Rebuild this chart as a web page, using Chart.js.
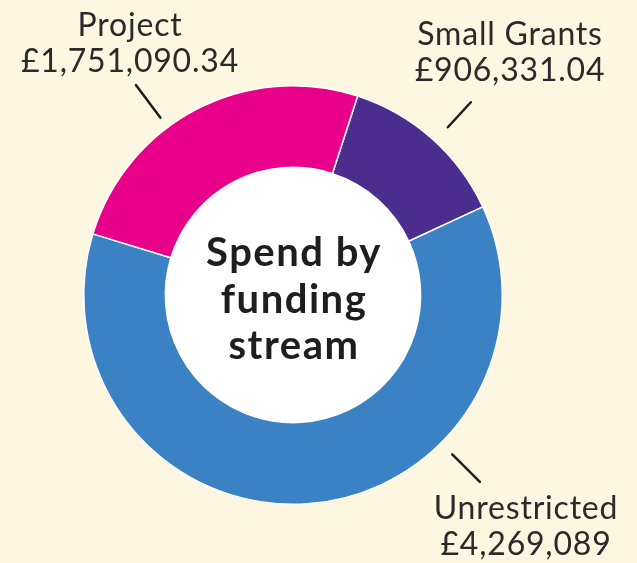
<!DOCTYPE html>
<html><head><meta charset="utf-8">
<script src="https://cdn.jsdelivr.net/npm/chart.js@4"></script>
<style>html,body{margin:0;padding:0;background:#fdf6e1;}#wrap{width:637px;height:563px;}</style>
</head><body><div id="wrap"><canvas id="c" width="637" height="563"></canvas></div>
<script>
const categories = ["Small Grants", "Unrestricted", "Project"];
const values = [906331.04, 4269089, 1751090.34];
const valueLabels = ["£906,331.04", "£4,269,089", "£1,751,090.34"];
const colors = ["#4a2d8c", "#3a82c4", "#e9008a"];
const centerTitle = ["Spend by", "funding", "stream"];

const labelPlugin = {
  id: 'labels',
  beforeDatasetsDraw(chart) {
    const arc = chart.getDatasetMeta(0).data[0];
    const ctx = chart.ctx;
    ctx.save();
    ctx.fillStyle = '#ffffff';
    ctx.beginPath();
    ctx.arc(arc.x, arc.y, arc.innerRadius + 1, 0, Math.PI * 2);
    ctx.fill();
    ctx.restore();
  },
  afterDraw(chart) {
    const ctx = chart.ctx;
    const arcs = chart.getDatasetMeta(0).data;
    const cx = arcs[0].x, cy = arcs[0].y, R = arcs[0].outerRadius;
    ctx.save();
    ctx.fillStyle = '#1e1e1e';
    ctx.font = 'bold 40px Lato';
    ctx.letterSpacing = '1.5px';
    ctx.textAlign = 'center';
    ctx.textBaseline = 'alphabetic';
    centerTitle.forEach((t, i) => ctx.fillText(t, cx + 1, 266 + i * 46.5));
    const pos = [
      {tx: 510, ty: 45, deg: -47.3, r0: 19, r1: 53},
      {tx: 526, ty: 519, deg: 45, r0: 16, r1: 55},
      {tx: 130, ty: 36, deg: -126.8, r0: 12, r1: 53}
    ];
    ctx.font = '32px Lato';
    ctx.letterSpacing = '0.8px';
    arcs.forEach((a, i) => {
      const p = pos[i];
      ctx.fillStyle = '#2a2a2a';
      ctx.fillText(categories[i], p.tx, p.ty);
      ctx.fillText(valueLabels[i], p.tx, p.ty + 36);
      const ang = p.deg * Math.PI / 180;
      const x0 = cx + Math.cos(ang) * (R + p.r0), y0 = cy + Math.sin(ang) * (R + p.r0);
      const x1 = cx + Math.cos(ang) * (R + p.r1), y1 = cy + Math.sin(ang) * (R + p.r1);
      ctx.strokeStyle = '#1e1e1e';
      ctx.lineWidth = 2.5;
      ctx.lineCap = 'round';
      ctx.beginPath();
      ctx.moveTo(x0, y0);
      ctx.lineTo(x1, y1);
      ctx.stroke();
    });
    ctx.restore();
  }
};

new Chart(document.getElementById('c'), {
  type: 'doughnut',
  data: {
    labels: categories,
    datasets: [{
      data: values,
      backgroundColor: colors,
      borderColor: '#ffffff',
      borderWidth: 1.5
    }]
  },
  options: {
    responsive: false,
    animation: false,
    rotation: 18,
    cutout: '61%',
    layout: {padding: {left: 83, right: 134, top: 85, bottom: 58}},
    plugins: {legend: {display: false}, tooltip: {enabled: false}}
  },
  plugins: [labelPlugin]
});
</script>
</body></html>
